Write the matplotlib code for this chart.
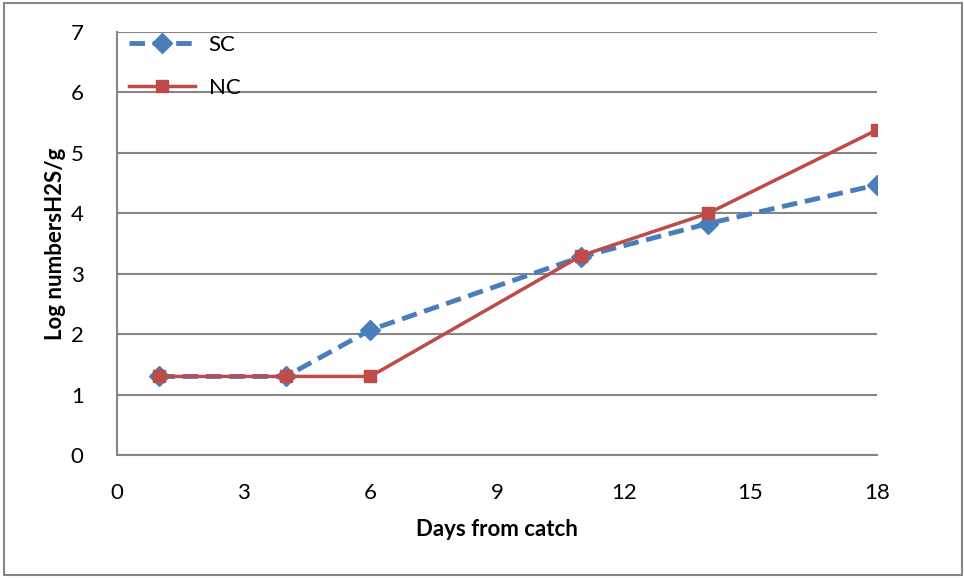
import matplotlib
matplotlib.use("Agg")
import matplotlib.pyplot as plt
from matplotlib.patches import Rectangle

plt.rcParams['font.family'] = ['Lato', 'DejaVu Sans']

days_sc = [1, 4, 6, 11, 14, 18]
sc = [1.30, 1.30, 2.07, 3.28, 3.83, 4.47]
days_nc = [1, 4, 6, 11, 14, 18]
nc = [1.30, 1.30, 1.30, 3.30, 4.00, 5.38]
x_ticks = [0, 3, 6, 9, 12, 15, 18]
y_ticks = [0, 1, 2, 3, 4, 5, 6, 7]

fig = plt.figure(figsize=(9.64, 5.78), dpi=100)
ax = fig.add_axes([117/964, 1 - 455/578, (877 - 117)/964, (455 - 32)/578])

ax.plot(days_sc, sc, color='#4a7ebb', lw=3.5, ls=(0, (3.2, 1.6)), marker='D',
        ms=10, label='SC', zorder=3)
ax.plot(days_nc, nc, color='#be4b48', lw=2.5, marker='s', ms=8, label='NC', zorder=4)

ax.set_xlim(0, 18)
ax.set_ylim(0, 7)
ax.set_xticks(x_ticks)
ax.set_yticks(y_ticks)
ax.tick_params(length=0, labelsize=16)
ax.tick_params(axis='x', pad=20)
ax.tick_params(axis='y', pad=24)
ax.grid(axis='y', color='#868686', lw=1.5)
ax.set_axisbelow(True)
for s in ['top', 'right']:
    ax.spines[s].set_visible(False)
for s in ['left', 'bottom']:
    ax.spines[s].set_color('#868686')
    ax.spines[s].set_linewidth(1.5)

ax.set_xlabel('Days from catch', fontsize=16, fontweight='bold', labelpad=12)
ax.set_ylabel('Log numbersH2S/g', fontsize=16, fontweight='bold', labelpad=3)

ax.legend(loc='upper left', bbox_to_anchor=(-0.005, 1.03), frameon=False,
          fontsize=16, handlelength=3.0, labelspacing=1.05, handletextpad=0.6,
          borderaxespad=0.3)

fig.patches.append(Rectangle((4/964, 0.005), 958/964, 0.99, transform=fig.transFigure,
                             fill=False, edgecolor='#868686', lw=1.5))

fig.savefig('out.png', dpi=100)
